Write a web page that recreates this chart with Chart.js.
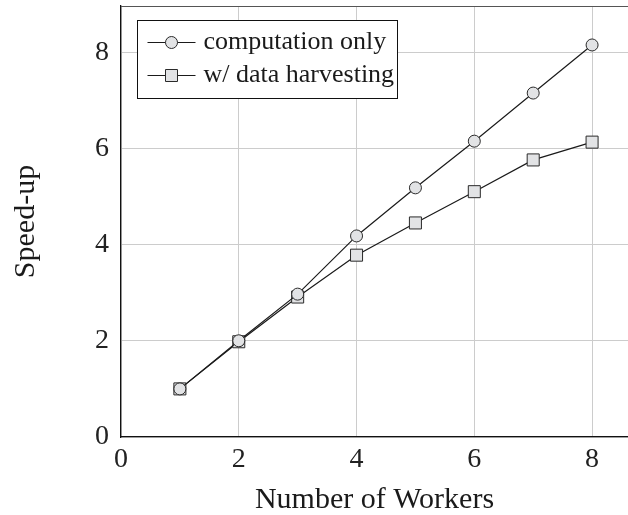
<!DOCTYPE html>
<html>
<head>
<meta charset="utf-8">
<script src="https://cdn.jsdelivr.net/npm/chart.js@4.4.0/dist/chart.umd.min.js"></script>
<style>
  html, body { margin: 0; padding: 0; background: #fff; }
  #wrap { width: 628px; height: 515px; }
</style>
</head>
<body>
<div id="wrap"><canvas id="speedChart" width="628" height="515"></canvas></div>
<script>
let workers = [1, 2, 3, 4, 5, 6, 7, 8]
let computeOnly = [1, 2, 2.97, 4.18, 5.18, 6.15, 7.15, 8.15]
let withHarvest = [1, 1.98, 2.91, 3.78, 4.45, 5.1, 5.76, 6.13]
let seriesNames = ["computation only", "w/ data harvesting"]
let xTicks = [0, 2, 4, 6, 8]
let yTicks = [0, 2, 4, 6, 8]

const serif = "'Liberation Serif', 'Times New Roman', serif"
const markFill = "#e2e3e5"
const markLine = "#2a2a2a"

// legend inside the plot + top frame line, pgfplots style
const boxLegend = {
    id: "boxLegend",
    afterDraw(chart) {
        const ctx = chart.ctx
        const area = chart.chartArea
        ctx.save()
        ctx.strokeStyle = "#555"
        ctx.lineWidth = 1
        ctx.beginPath()
        ctx.moveTo(area.left, area.top + 0.5)
        ctx.lineTo(area.right, area.top + 0.5)
        ctx.stroke()

        const bx = area.left + 16.5, by = 20.5, bw = 260, bh = 78
        ctx.fillStyle = "#fff"
        ctx.fillRect(bx, by, bw, bh)
        ctx.strokeStyle = "#111"
        ctx.strokeRect(bx, by, bw, bh)

        chart.data.datasets.forEach((ds, i) => {
            const cy = 42.5 + i * 33
            const x0 = bx + 10, x1 = bx + 58, cx = (x0 + x1) / 2
            ctx.strokeStyle = ds.borderColor
            ctx.lineWidth = 1.2
            ctx.beginPath()
            ctx.moveTo(x0, cy)
            ctx.lineTo(x1, cy)
            ctx.stroke()
            ctx.fillStyle = ds.pointBackgroundColor
            ctx.strokeStyle = ds.pointBorderColor
            ctx.lineWidth = 1
            ctx.beginPath()
            if (ds.pointStyle == "rect") {
                ctx.rect(cx - 6, cy - 6, 12, 12)
            } else {
                ctx.arc(cx, cy, 6, 0, Math.PI * 2)
            }
            ctx.fill()
            ctx.stroke()
            ctx.fillStyle = "#1a1a1a"
            ctx.font = "26px " + serif
            ctx.textBaseline = "middle"
            ctx.fillText(ds.label, x1 + 8, cy)
        })
        ctx.restore()
    }
}

new Chart("speedChart", {
    type: "line",
    data: {
        labels: workers,
        datasets: [{
            label: seriesNames[0],
            data: workers.map((w, i) => ({x: w, y: computeOnly[i]})),
            borderColor: "#1a1a1a",
            borderWidth: 1.2,
            pointStyle: "circle",
            pointRadius: 6,
            pointBackgroundColor: markFill,
            pointBorderColor: markLine,
            pointBorderWidth: 1,
            fill: false,
            tension: 0
        }, {
            label: seriesNames[1],
            data: workers.map((w, i) => ({x: w, y: withHarvest[i]})),
            borderColor: "#1a1a1a",
            borderWidth: 1.2,
            pointStyle: "rect",
            pointRadius: 8.5,
            pointBackgroundColor: markFill,
            pointBorderColor: markLine,
            pointBorderWidth: 1,
            fill: false,
            tension: 0
        }]
    },
    options: {
        responsive: false,
        animation: false,
        layout: { autoPadding: false, padding: { top: 6, right: 0, left: 0, bottom: 0 } },
        plugins: {
            legend: { display: false },
            tooltip: { enabled: false }
        },
        scales: {
            x: {
                type: "linear",
                min: 0,
                max: 8.61,
                afterBuildTicks: s => { s.ticks = xTicks.map(v => ({value: v})) },
                afterFit: s => { s.height = 78; s.paddingLeft = 0; s.paddingRight = 0 },
                grid: { color: "#cccccc", drawTicks: false },
                border: { color: "#111", width: 1.3 },
                ticks: { color: "#222", padding: 6, font: { family: serif, size: 28 } },
                title: {
                    display: true,
                    text: "Number of Workers",
                    color: "#1a1a1a",
                    padding: 0,
                    font: { family: serif, size: 30, lineHeight: 1 }
                }
            },
            y: {
                min: 0,
                max: 8.96,
                afterBuildTicks: s => { s.ticks = yTicks.map(v => ({value: v})) },
                afterFit: s => { s.width = 121; s.paddingTop = 0; s.paddingBottom = 0 },
                grid: { color: "#cccccc", drawTicks: false },
                border: { color: "#111", width: 1.3 },
                ticks: { color: "#222", padding: 12, font: { family: serif, size: 28 } },
                title: {
                    display: true,
                    text: "Speed-up",
                    color: "#1a1a1a",
                    padding: { top: 11, bottom: 0 },
                    font: { family: serif, size: 30, lineHeight: 1 }
                }
            }
        }
    },
    plugins: [boxLegend]
})
</script>
</body>
</html>
